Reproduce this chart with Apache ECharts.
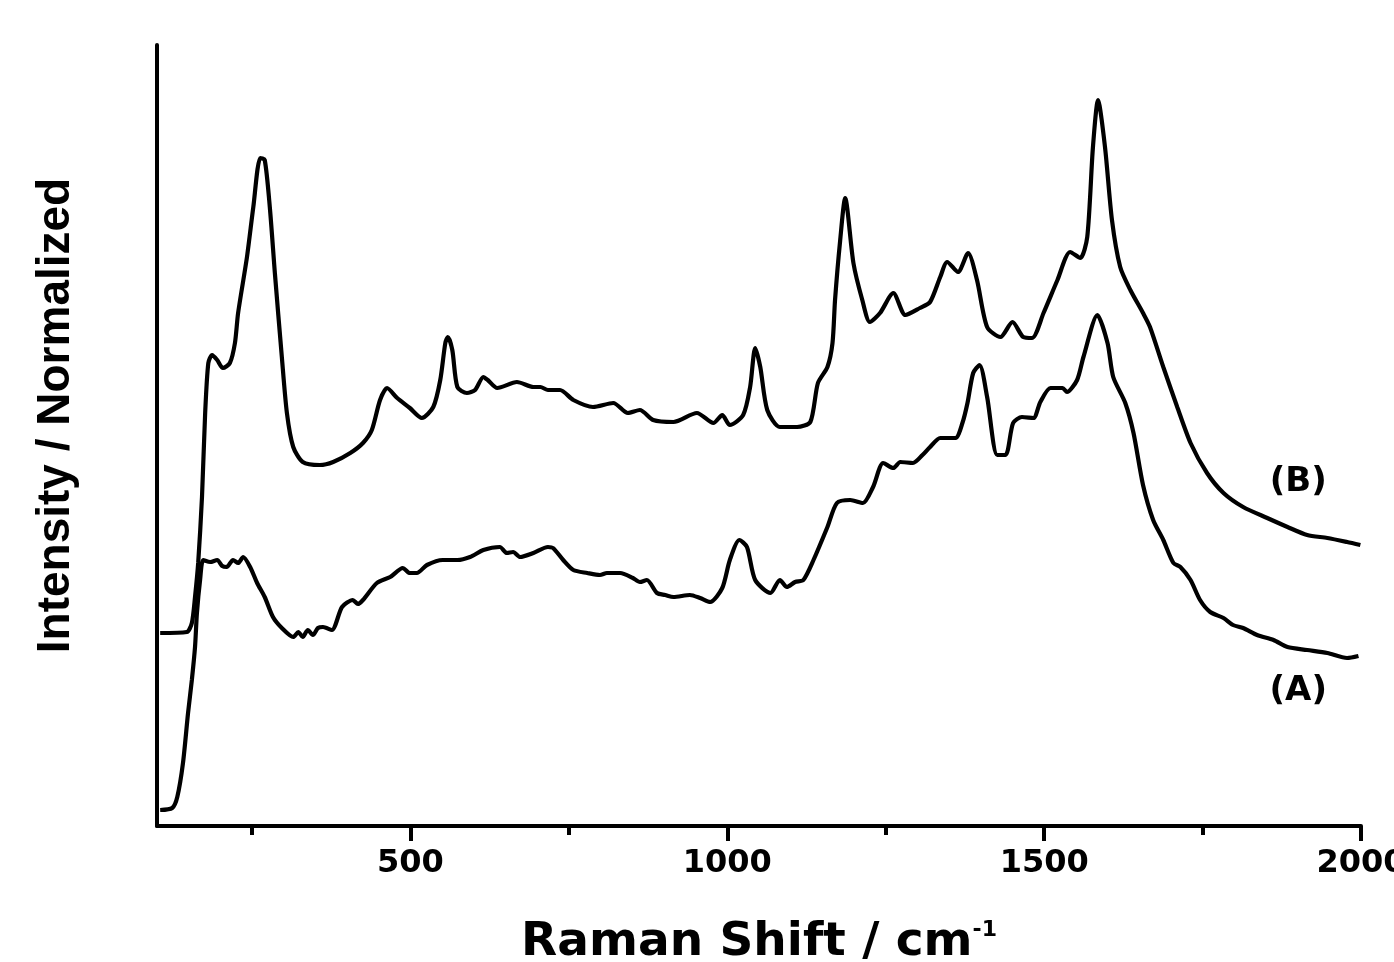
<!DOCTYPE html>
<html>
<head>
<meta charset="utf-8">
<script src="https://cdn.jsdelivr.net/npm/echarts@6/dist/echarts.min.js"></script>
<style>html,body{margin:0;padding:0;background:#fff}#c{width:1394px;height:962px}</style>
</head>
<body>
<div id="c"></div>
<script>
// Raman shift (cm-1), intensity (arbitrary, normalized units)
const shiftA = [105,124,132,141,149,155,160,163,168,173,184,195,203,210,220,228,236,247,258,270,283,297,315,323,330,338,346,354,362,376,392,409,417,425,447,468,488,499,510,526,551,574,594,615,641,652,662,673,694,717,725,741,757,779,799,810,831,851,862,873,889,902,915,941,957,973,992,1004,1019,1031,1044,1068,1083,1094,1107,1120,1136,1158,1173,1194,1214,1230,1246,1262,1273,1293,1308,1320,1336,1360,1371,1379,1388,1398,1410,1426,1439,1451,1465,1483,1494,1510,1529,1536,1552,1562,1584,1600,1609,1628,1641,1656,1672,1688,1704,1715,1731,1746,1762,1783,1798,1814,1836,1862,1884,1915,1947,1978,1996];
const intensityA = [16,18,29,63,113,146,179,213,246,266,264,266,260,259,266,263,269,259,243,229,209,198,189,194,189,196,191,198,199,196,219,226,222,226,243,249,258,253,253,261,266,266,269,276,279,273,274,269,273,279,278,266,256,253,251,253,253,248,244,246,233,231,229,231,228,224,238,266,286,279,246,233,246,239,244,246,266,299,323,326,323,339,363,358,364,363,371,379,388,388,403,423,453,461,429,371,371,403,409,408,424,438,438,434,446,469,511,483,449,423,393,341,306,286,263,259,246,226,214,208,201,198,191,186,179,176,173,168,170];

const shiftB = [105,147,155,160,165,171,176,181,187,195,204,215,223,228,242,252,263,270,278,286,297,305,315,330,357,378,405,425,439,452,463,479,499,518,536,547,555,559,566,574,589,602,615,622,637,668,694,705,717,736,757,788,820,843,862,883,915,952,978,992,1004,1025,1036,1044,1052,1063,1083,1110,1131,1143,1158,1166,1170,1178,1186,1199,1213,1225,1241,1262,1281,1304,1320,1336,1347,1364,1380,1394,1410,1431,1450,1467,1481,1499,1521,1541,1557,1568,1577,1585,1596,1607,1620,1636,1656,1667,1688,1710,1731,1757,1783,1814,1852,1884,1915,1947,1978,1999];
const intensityB = [193,194,203,229,263,329,413,463,471,466,458,463,483,513,569,619,668,666,619,553,469,413,379,364,361,364,373,383,396,426,438,428,418,408,419,446,483,489,476,439,433,436,449,446,438,444,439,439,436,436,426,419,423,413,416,406,404,413,403,411,401,411,439,478,459,416,399,399,404,443,459,483,526,585,628,563,526,504,513,533,511,518,524,549,564,554,573,546,499,489,504,489,488,513,546,574,568,589,679,726,679,606,559,536,513,499,459,419,383,353,333,319,308,299,291,288,284,281];

const majorTicks = [500, 1000, 1500, 2000];
const minorTicks = [250, 750, 1250, 1750];
const labelA = '(A)', labelB = '(B)';
const labelPosA = [1901, 135], labelPosB = [1901, 344];

const pairs = (xs, ys) => xs.map((x, i) => [x, ys[i]]);

const chart = echarts.init(document.getElementById('c'), null, {renderer: 'canvas'});
const lineStyle = {color: '#000', width: 4.2};
const labelFont = {fontFamily: 'DejaVu Sans', fontWeight: 'bold', fontSize: 34, color: '#000'};

chart.setOption({
  animation: false,
  backgroundColor: '#fff',
  grid: {left: 157, top: 45, width: 1204, height: 781, containLabel: false, outerBoundsMode: 'none'},
  xAxis: [{
    type: 'value', min: 100, max: 2000, position: 'bottom',
    axisLine: {show: true, onZero: false, lineStyle: {color: '#000', width: 4}},
    axisTick: {show: true, customValues: majorTicks, length: 15, lineStyle: {color: '#000', width: 4}},
    axisLabel: {show: true, customValues: majorTicks, margin: 22, color: '#000',
      fontFamily: 'DejaVu Sans', fontWeight: 'bold', fontSize: 32,
      hideOverlap: false, formatter: v => String(v)},
    splitLine: {show: false},
    name: '{m|Raman Shift / cm}{s|-1}',
    nameLocation: 'middle', nameGap: 93,
    nameTextStyle: {rich: {
      m: {fontFamily: 'DejaVu Sans', fontWeight: 'bold', fontSize: 47, color: '#000'},
      s: {fontFamily: 'DejaVu Sans', fontWeight: 'bold', fontSize: 22, color: '#000', verticalAlign: 'top'}
    }}
  }, {
    type: 'value', min: 100, max: 2000, position: 'bottom', gridIndex: 0,
    axisLine: {show: false},
    axisTick: {show: true, customValues: minorTicks, length: 9, lineStyle: {color: '#000', width: 4}},
    axisLabel: {show: false},
    splitLine: {show: false}
  }],
  yAxis: {
    type: 'value', min: 0, max: 781,
    axisLine: {show: true, onZero: false, lineStyle: {color: '#000', width: 4}},
    axisTick: {show: false}, axisLabel: {show: false}, splitLine: {show: false},
    name: 'Intensity / Normalized', nameLocation: 'middle', nameGap: 78, nameRotate: 90,
    nameTextStyle: {fontFamily: "'Liberation Sans', Arial, sans-serif",
      fontWeight: 'bold', fontSize: 46, color: '#000', padding: [0, 0, 0, 40]}
  },
  series: [{
    name: 'A', type: 'line', data: pairs(shiftA, intensityA), showSymbol: false, smooth: 0.25,
    lineStyle: lineStyle, itemStyle: {color: '#000'},
    markPoint: {symbol: 'circle', symbolSize: 1, itemStyle: {color: 'rgba(0,0,0,0)'},
      label: Object.assign({show: true, position: 'inside', formatter: labelA}, labelFont),
      data: [{coord: labelPosA}]}
  }, {
    name: 'B', type: 'line', data: pairs(shiftB, intensityB), showSymbol: false, smooth: 0.25,
    lineStyle: lineStyle, itemStyle: {color: '#000'},
    markPoint: {symbol: 'circle', symbolSize: 1, itemStyle: {color: 'rgba(0,0,0,0)'},
      label: Object.assign({show: true, position: 'inside', formatter: labelB}, labelFont),
      data: [{coord: labelPosB}]}
  }]
});
</script>
</body>
</html>
